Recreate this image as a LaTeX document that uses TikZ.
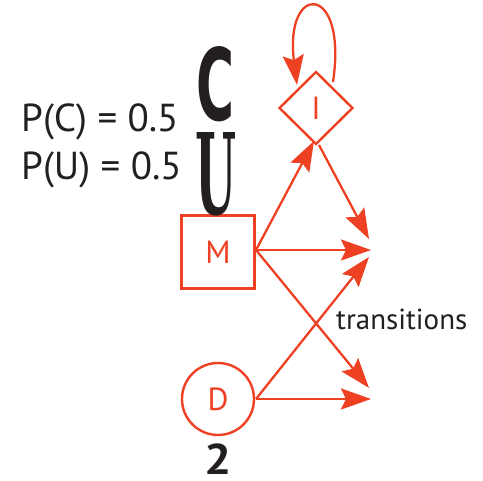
\documentclass[tikz,border=0pt]{standalone}
\usepackage{fontspec}
\setmainfont{PT Sans}
\newfontfamily\logofont{DejaVu Sans}
\newfontfamily\logoseriffont{DejaVu Serif}
\usetikzlibrary{shapes.geometric,arrows.meta}
\definecolor{hmmred}{HTML}{EE4023}
\definecolor{ink}{HTML}{231F20}
\tikzset{
  statebox/.style={draw=hmmred, line width=2.4pt, text=hmmred, font=\fontsize{32}{34}\selectfont, inner sep=0pt},
  trans/.style={draw=hmmred, line width=2.3pt, -{Stealth[length=30pt,width=21pt,inset=5pt]}},
}
\begin{document}
\begin{tikzpicture}[x=1pt,y=-1pt]
\useasboundingbox (0,0) rectangle (483,481);
% states
\node[statebox, rectangle, minimum width=73pt, minimum height=73pt] (M) at (218,252) {M};
\node[statebox, circle, minimum size=72pt] (D) at (218,399) {D};
\node[statebox, diamond, minimum width=74pt, minimum height=73pt] (I) at (316,108) {I};
% targets
\coordinate (TI) at (369,239);
\coordinate (TM1) at (371,250);
\coordinate (TD1) at (369,257);
\coordinate (TM2) at (369,388);
\coordinate (TD2) at (371,399);
\coordinate (MI) at (314,141);
\coordinate (Mr) at (256,250);
\coordinate (Dr) at (256,399);
\coordinate (Ib) at (319,145);
\coordinate (Is) at (333,82);
\coordinate (Ie) at (297,85);
% transitions
\draw[trans] (Mr) -- (MI);
\draw[trans] (Ib) -- (TI);
\draw[trans] (Mr) -- (TM1);
\draw[trans] (Dr) -- (TD1);
\draw[trans] (Mr) -- (TM2);
\draw[trans] (Dr) -- (TD2);
\draw[trans] (Is) .. controls (348,-18) and (284,-18) .. (Ie);
% labels
\node[anchor=base west, text=ink, font=\fontsize{29}{31}\selectfont, inner sep=0pt] (tr) at (336,330) {transitions};
\node[anchor=base, text=ink, font=\bfseries\fontsize{43}{45}\selectfont, inner sep=0pt] (two) at (218,475) {\scalebox{1.12}[1]{2}};
\node[anchor=base west, text=ink, font=\fontsize{39}{41}\selectfont, inner sep=0pt] (pc) at (21,132) {P(C) = 0.5};
\node[anchor=base west, text=ink, font=\fontsize{39}{41}\selectfont, inner sep=0pt] (pu) at (21,180) {P(U) = 0.5};
% logo letters
\node[inner sep=0pt, text=ink] (C) at (216,84) {\resizebox{38pt}{74pt}{\logofont\bfseries C}};
\node[inner sep=0pt, text=ink] (U) at (216.5,174) {\resizebox{41pt}{82pt}{\logoseriffont\bfseries U}};
\end{tikzpicture}
\end{document}
